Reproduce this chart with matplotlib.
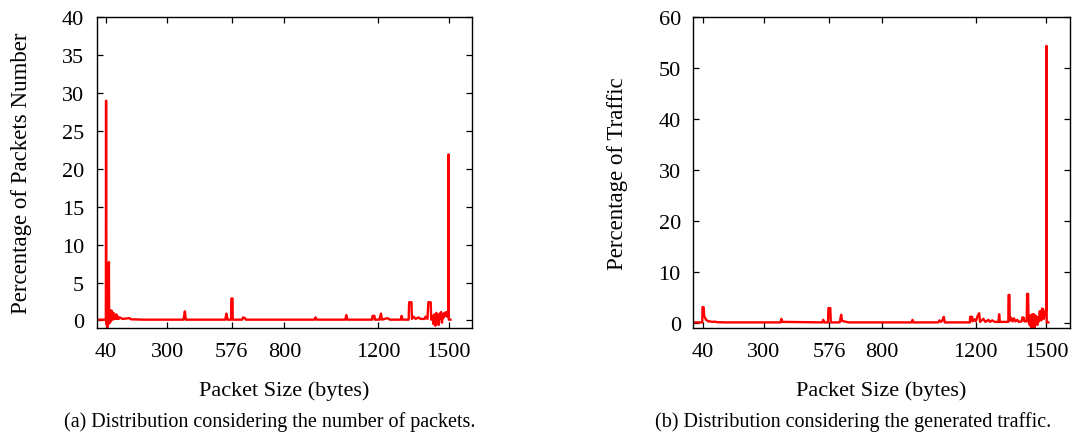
import numpy as np
import matplotlib
matplotlib.use("Agg")
import matplotlib.pyplot as plt

plt.rcParams['font.family'] = ['Liberation Serif', 'DejaVu Serif']

# packet size (bytes) vs percentage of packets number
sizes_a = [0, 36, 39, 40, 41, 43, 44, 46, 48, 50, 52, 53, 55, 57, 59, 61, 63, 65, 67, 69,
           72, 74, 77, 80, 84, 87, 90, 94, 98, 110, 140, 145, 200, 370, 376, 380,
           548, 553, 558, 573, 574, 579, 580, 620, 624, 632, 636, 928, 933, 937,
           1060, 1064, 1068, 1174, 1176, 1184, 1186, 1205, 1212, 1216, 1240, 1250,
           1296, 1300, 1304, 1330, 1332, 1342, 1344, 1350, 1360, 1372, 1380, 1398,
           1402, 1410, 1414, 1424, 1426, 1432, 1436, 1440, 1444, 1448, 1452, 1455,
           1458, 1462, 1465, 1468, 1472, 1475, 1478, 1482, 1486, 1490, 1494, 1497,
           1499, 1500, 1501, 1508]
pct_a = [0.1, 0.1, 0.3, 29.0, 0.2, -0.6, 1.2, -0.9, 0.8, -0.5, 7.7, 0.4, 1.4, -0.3, 1.1, 0.0, 1.3, 0.2, 0.9, 0.1,
         1.0, 0.2, 0.7, 0.2, 0.8, 0.2, 0.5, 0.2, 0.4, 0.2, 0.3, 0.15, 0.1, 0.1, 1.2, 0.1,
         0.1, 0.9, 0.1, 0.1, 2.9, 2.9, 0.1, 0.1, 0.4, 0.3, 0.1, 0.1, 0.4, 0.1,
         0.1, 0.7, 0.1, 0.1, 0.6, 0.6, 0.1, 0.1, 0.9, 0.1, 0.3, 0.1,
         0.1, 0.6, 0.1, 0.1, 2.4, 2.4, 0.2, 0.5, 0.2, 0.4, 0.2, 0.2,
         0.5, 0.2, 2.4, 2.4, 0.1, 0.6, -0.5, 0.8, -0.7, 1.0, 0.0, 0.7,
         -0.6, 0.9, 0.2, 1.1, -0.3, 0.8, 0.3, 1.0, 0.6, 1.1, 0.5, 1.2,
         0.8, 21.9, 0.1, 0.1]

# packet size (bytes) vs percentage of traffic
sizes_b = [0, 38, 39, 44, 46, 50, 54, 58, 64, 70, 80, 90, 100, 130, 370, 374, 378,
           548, 552, 556, 572, 574, 582, 584, 622, 628, 632, 640, 660, 928, 931, 935,
           1040, 1046, 1052, 1058, 1064, 1068, 1175, 1176, 1184, 1186, 1194, 1200,
           1208, 1214, 1218, 1232, 1240, 1254, 1260, 1270, 1280, 1296, 1299, 1302,
           1338, 1339, 1343, 1344, 1350, 1356, 1362, 1368, 1376, 1382, 1394, 1398,
           1404, 1406, 1416, 1418, 1422, 1424, 1430, 1433, 1436, 1440, 1443, 1446,
           1449, 1452, 1455, 1458, 1461, 1464, 1468, 1471, 1475, 1478, 1481, 1486,
           1489, 1492, 1496, 1499, 1500, 1501, 1508]
pct_b = [0.1, 0.1, 3.1, 3.1, 1.4, 1.0, 0.6, 0.5, 0.3, 0.3, 0.2, 0.25, 0.15, 0.1, 0.1, 0.8, 0.2,
         0.1, 0.6, 0.1, 0.1, 2.9, 2.9, 0.1, 0.1, 1.6, 0.4, 0.3, 0.1, 0.1, 0.6, 0.1,
         0.1, 0.5, 0.2, 0.5, 1.2, 0.1, 0.1, 1.2, 1.2, 0.3, 0.7, 0.3,
         1.4, 1.9, 0.2, 0.8, 0.2, 0.6, 0.2, 0.5, 0.2, 0.2, 1.7, 0.2,
         0.2, 5.5, 5.5, 0.4, 1.0, 0.3, 0.9, 0.3, 0.6, 0.2, 0.3, 1.1,
         1.0, 0.3, 0.3, 5.7, 5.7, 0.3, -0.5, 1.5, -1.2, 1.7, 0.2, 1.7,
         -1.0, 1.5, 0.3, 1.2, -0.4, 1.1, 0.3, 2.3, 2.2, 0.5, 2.8, 2.7,
         0.8, 2.1, 1.6, 2.9, 54.4, 0.1, 0.1]

xticks = [40, 300, 576, 800, 1200, 1500]
yticks_a = [0, 5, 10, 15, 20, 25, 30, 35, 40]
yticks_b = [0, 10, 20, 30, 40, 50, 60]

W, H = 1074, 435
fig = plt.figure(figsize=(W / 100, H / 100), dpi=100)

def style_axes(ax, ylabel, yticks, ymax):
    ax.set_xlim(0, 1600)
    ax.set_ylim(-1, ymax)
    ax.set_xticks(xticks)
    ax.set_yticks(yticks)
    ax.tick_params(direction='in', length=4.5, width=0.9, labelsize=16,
                   top=True, right=True, color='black')
    ax.tick_params(axis='x', pad=10)
    ax.tick_params(axis='y', pad=9)
    for s in ax.spines.values():
        s.set_linewidth(1.0)
    ax.set_xlabel('Packet Size (bytes)', fontsize=16, va='center')
    ax.xaxis.set_label_coords(0.5, -0.2)
    ax.set_ylabel(ylabel, fontsize=16.5, va='center')

ax1 = fig.add_axes([96.7 / W, (H - 329) / H, 375.3 / W, 310.7 / H])
ax1.plot(sizes_a, pct_a, color='#ff0000', lw=1.7)
style_axes(ax1, 'Percentage of Packets Number', yticks_a, 40)
ax1.yaxis.set_label_coords((22 - 96.7) / 375.3, 0.5)

ax2 = fig.add_axes([693.3 / W, (H - 329) / H, 376.7 / W, 310.7 / H])
ax2.plot(sizes_b, pct_b, color='#ff0000', lw=1.7)
style_axes(ax2, 'Percentage of Traffic', yticks_b, 60)
ax2.yaxis.set_label_coords((617 - 693.3) / 376.7, 0.5)

fig.text(270 / W, 1 - 422 / H, '(a) Distribution considering the number of packets.',
         ha='center', va='center', fontsize=14.5)
fig.text(853 / W, 1 - 422 / H, '(b) Distribution considering the generated traffic.',
         ha='center', va='center', fontsize=14.5)

fig.savefig('out.png', dpi=100)
